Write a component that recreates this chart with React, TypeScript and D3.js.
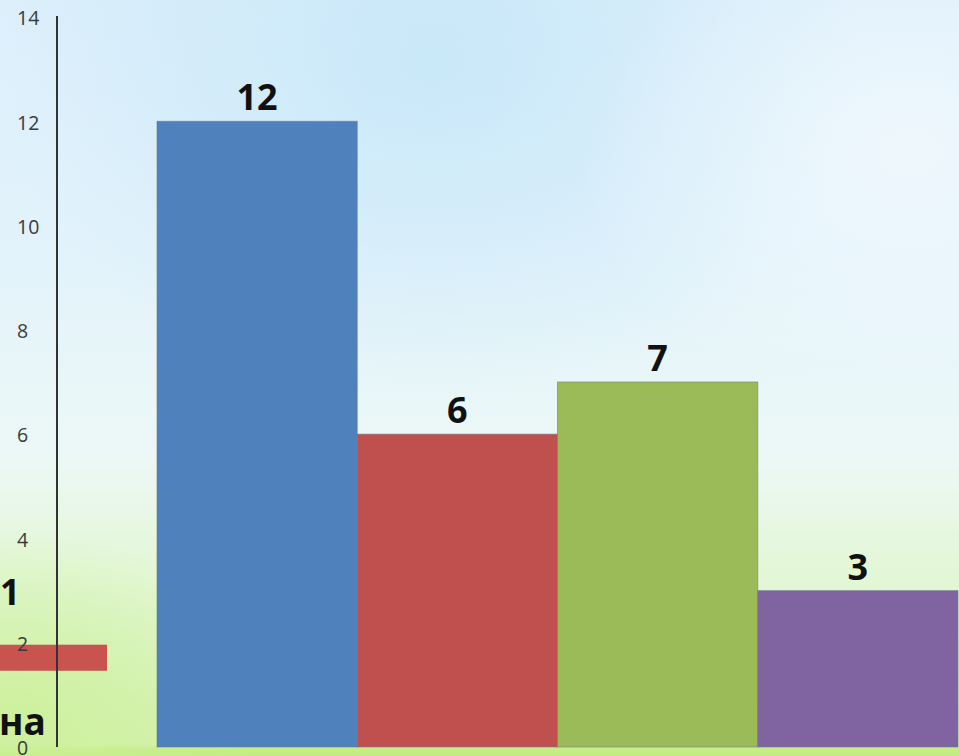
import React from "react";
import * as d3 from "d3";

const categories = ["Категория 1", "Категория 2", "Категория 3", "Категория 4"];
const values = [12, 6, 7, 3];
const barColors = ["#4f81bd", "#c0504d", "#9bbb59", "#8064a2"];
const yTicks = [0, 2, 4, 6, 8, 10, 12, 14];
const sideValue = 1;
const sideLabel = "на";

const W = 959;
const H = 756;

export default function App() {
  const y = d3.scaleLinear().domain([0, 14]).range([747, 17]);
  const x = d3.scaleBand<string>().domain(categories).range([157, 958]).padding(0);
  const font = "'Open Sans', 'Liberation Sans', sans-serif";

  return (
    <svg
      width={W}
      height={H}
      style={{ position: "absolute", left: 0, top: 0, display: "block" }}
    >
      <defs>
        <linearGradient id="bg" x1="0" y1="0" x2="0" y2="1">
          <stop offset="0" stopColor="#dcefFb" />
          <stop offset="0.35" stopColor="#e3f3fb" />
          <stop offset="0.6" stopColor="#ecf8f6" />
          <stop offset="0.75" stopColor="#e4f7d8" />
          <stop offset="0.9" stopColor="#daf5c0" />
          <stop offset="0.985" stopColor="#d3f3ae" />
          <stop offset="0.99" stopColor="#c6ee86" />
          <stop offset="1" stopColor="#c2ec80" />
        </linearGradient>
        <radialGradient id="blob" cx="0.45" cy="0.08" r="0.45">
          <stop offset="0" stopColor="#c4e6f8" stopOpacity="0.8" />
          <stop offset="1" stopColor="#c4e6f8" stopOpacity="0" />
        </radialGradient>
        <radialGradient id="blobR" cx="0.95" cy="0.2" r="0.35">
          <stop offset="0" stopColor="#f2f9fd" stopOpacity="0.8" />
          <stop offset="1" stopColor="#f2f9fd" stopOpacity="0" />
        </radialGradient>
        <radialGradient id="greenL" cx="0.02" cy="0.95" r="0.25">
          <stop offset="0" stopColor="#ccf09a" stopOpacity="0.9" />
          <stop offset="1" stopColor="#ccf09a" stopOpacity="0" />
        </radialGradient>
      </defs>
      <rect x={0} y={0} width={W} height={H} fill="url(#bg)" />
      <rect x={0} y={0} width={W} height={H} fill="url(#blob)" />
      <rect x={0} y={0} width={W} height={H} fill="url(#blobR)" />
      <rect x={0} y={0} width={W} height={H} fill="url(#greenL)" />

      {/* small side bar */}
      <rect
        x={0}
        y={y(2) + 2}
        width={107}
        height={y(1.5) - y(2)}
        fill="#c84a4a"
        opacity={0.95}
      />

      {/* y tick labels */}
      {yTicks.map((t) => (
        <text
          key={t}
          x={17}
          y={y(t) + 3}
          dominantBaseline="middle"
          fontFamily={font}
          fontSize={19.5}
          fill="#3a3a3a"
        >
          {t}
        </text>
      ))}

      {/* axis line */}
      <line x1={57} x2={57} y1={y(14) - 1} y2={y(0)} stroke="#333" strokeWidth={2} />

      {/* bars */}
      {categories.map((c, i) => (
        <rect
          key={c}
          x={x(c)!}
          y={y(values[i])}
          width={x.bandwidth()}
          height={y(0) - y(values[i])}
          fill={barColors[i]}
          stroke="#6f7b86"
          strokeOpacity={0.6}
          strokeWidth={1}
        />
      ))}

      {/* value labels */}
      {categories.map((c, i) => (
        <text
          key={"l" + c}
          x={x(c)! + x.bandwidth() / 2}
          y={y(values[i]) - 11}
          textAnchor="middle"
          fontFamily={font}
          fontWeight="bold"
          fontSize={36}
          fill="#111"
        >
          {values[i]}
        </text>
      ))}

      <text x={0} y={605} fontFamily={font} fontWeight="bold" fontSize={35} fill="#111">
        {sideValue}
      </text>
      <text x={-1} y={735} fontFamily={font} fontWeight="bold" fontSize={37} fill="#111">
        {sideLabel}
      </text>
    </svg>
  );
}
